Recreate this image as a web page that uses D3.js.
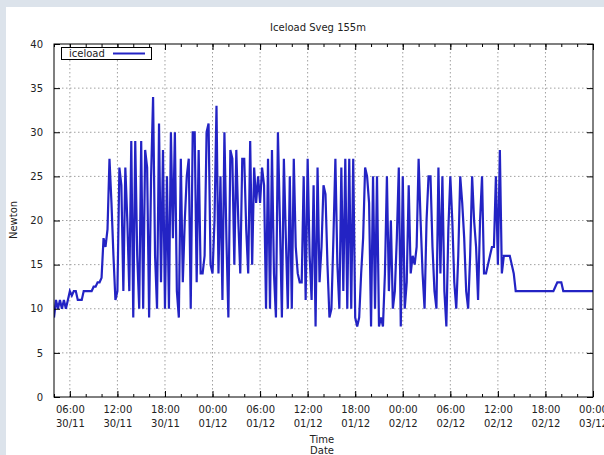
<!DOCTYPE html>
<html lang="en">
  <head>
    <meta charset="UTF-8" />
    <title>Iceload Sveg 155m</title>
    <script src="https://d3js.org/d3.v7.min.js"></script>
    <style>
      html,
      body {
        margin: 0;
        padding: 0;
        background-color: #dce3eb;
        overflow: hidden;
      }
      #panel {
        position: absolute;
        left: 6px;
        top: 7px;
        width: 598px;
        height: 448px;
        background-color: white;
      }
      #chart {
        position: absolute;
        left: 0;
        top: 0;
        font-family: "DejaVu Sans", Verdana, sans-serif;
      }
      .grid line {
        stroke: #a0a0a0;
        stroke-dasharray: 1.5, 2.5;
      }
      .tick text {
        fill: #222;
      }
    </style>
  </head>
  <body>
    <div id="panel"></div>
    <svg id="chart" width="604" height="455"></svg>
    <script>
      const titleText = "Iceload Sveg 155m";
      const seriesName = "iceload";
      const yLabel = "Newton";
      const xLabels = ["Time", "Date"];

      // samples every 15 minutes, starting 30/11 04:00
      const startTime = new Date(Date.UTC(2012, 10, 30, 4, 0));
      const endTime = new Date(Date.UTC(2012, 11, 3, 0, 0));
      const stepMinutes = 15;

      const iceload = [
        // 30/11 04:00 ->
        9, 11, 10, 11, 10, 11, 10, 11, 12, 11.5,
        12, 12, 11, 11, 11, 12, 12, 12, 12, 12,
        12.5, 12.5, 13, 13, 13.5, 18, 17, 19, 27, 22,
        16, 11, 12, 26, 24, 12, 26, 20, 12, 29,
        9, 29, 16, 10, 29, 10, 28,
        // ~15:45 30/11 ->
        26, 9, 25, 34, 16, 10, 31, 13, 28, 10,
        25, 10, 30, 18, 30, 12, 9, 27, 13, 20,
        25, 27, 10, 30, 30, 13, 28, 14, 14, 16,
        30, 31, 15, 14, 20, 33, 14, 25, 11, 30,
        18, 9, 28, 27, 15, 28, 20,
        // ~03:30 01/12 ->
        14, 27, 27, 19, 14, 29, 15, 26, 22, 25,
        22, 26, 24, 10, 27, 10, 28, 14, 9, 30,
        20, 9, 27, 18, 10, 25, 10, 27, 17, 14,
        13, 13, 25, 11, 27, 16, 11, 24, 8, 26,
        13, 17, 24, 23, 15, 9, 10, 18,
        // ~15:30 01/12 ->
        27, 15, 10, 26, 12, 27, 10, 27, 10, 27,
        9, 8, 9, 14, 18, 26, 25, 22, 8, 25,
        10, 25, 8, 9, 8, 14, 25, 12, 20, 10,
        12, 18, 26, 8, 25, 10, 13, 24, 14, 16,
        15, 17, 27, 20, 14, 10,
        // ~03:00 02/12 ->
        20, 25, 25, 17, 12, 10, 26, 14, 25, 12,
        8, 19, 25, 20, 13, 10, 16, 25, 22, 18,
        12, 10, 16, 25, 20, 17, 11, 20, 25, 14,
        14, 15, 16, 17, 17, 25, 15, 28, 14, 16,
        16, 16, 16, 15, 14, 12,
        // ~14:30 02/12 -> 00:00 03/12
        12, 12, 12, 12, 12, 12, 12, 12, 12, 12,
        12, 12, 12, 12, 12, 12, 12, 12, 12, 12.5,
        13, 13, 13, 12, 12, 12, 12, 12, 12, 12,
        12, 12, 12, 12, 12, 12, 12, 12, 12,
      ];

      const yTicks = [0, 5, 10, 15, 20, 25, 30, 35, 40];

      const data = iceload.map((v, i) => ({
        t: new Date(startTime.getTime() + i * stepMinutes * 60000),
        v: v,
      }));

      const plot = { left: 54, right: 593, top: 44, bottom: 397 };

      const x = d3
        .scaleUtc()
        .domain([startTime, endTime])
        .range([plot.left, plot.right]);
      const y = d3
        .scaleLinear()
        .domain([0, 40])
        .range([plot.bottom, plot.top]);

      const svg = d3.select("#chart");

      // title
      svg
        .append("text")
        .attr("x", 318)
        .attr("y", 31)
        .attr("text-anchor", "middle")
        .attr("font-size", "10px")
        .attr("fill", "#222")
        .text(titleText);

      // grid
      const majorTimes = x.ticks(d3.utcHour.every(6));
      const grid = svg.append("g").attr("class", "grid");
      grid
        .selectAll(".vgrid")
        .data(majorTimes.filter((d) => x(d) < plot.right - 1))
        .enter()
        .append("line")
        .attr("x1", (d) => x(d))
        .attr("x2", (d) => x(d))
        .attr("y1", plot.top)
        .attr("y2", plot.bottom);
      grid
        .selectAll(".hgrid")
        .data(yTicks.filter((d) => d > 0 && d < 40))
        .enter()
        .append("line")
        .attr("x1", plot.left)
        .attr("x2", plot.right)
        .attr("y1", (d) => y(d))
        .attr("y2", (d) => y(d));

      // line
      svg
        .append("clipPath")
        .attr("id", "clip")
        .append("rect")
        .attr("x", plot.left)
        .attr("y", plot.top)
        .attr("width", plot.right - plot.left)
        .attr("height", plot.bottom - plot.top);

      const line = d3
        .line()
        .x((d) => x(d.t))
        .y((d) => y(d.v));

      svg
        .append("path")
        .datum(data)
        .attr("clip-path", "url(#clip)")
        .attr("fill", "none")
        .attr("stroke", "#2323c4")
        .attr("stroke-width", 2.2)
        .attr("d", line);

      // axes (ticks point inwards, like gnuplot)
      const bottomAxis = svg
        .append("g")
        .attr("transform", `translate(0,${plot.bottom})`)
        .call(
          d3
            .axisBottom(x)
            .ticks(d3.utcHour.every(6))
            .tickSizeInner(-6)
            .tickSizeOuter(0)
            .tickPadding(9)
            .tickFormat(d3.utcFormat("%H:%M"))
        );
      bottomAxis.selectAll(".tick text").each(function (d) {
        const t = d3.select(this);
        t.text(null);
        t.append("tspan").attr("x", 0).text(d3.utcFormat("%H:%M")(d));
        t.append("tspan")
          .attr("x", 0)
          .attr("dy", "1.4em")
          .text(d3.utcFormat("%d/%m")(d));
      });

      svg
        .append("g")
        .attr("transform", `translate(0,${plot.bottom})`)
        .call(
          d3
            .axisBottom(x)
            .ticks(d3.utcHour.every(2))
            .tickSizeInner(-3)
            .tickSizeOuter(0)
            .tickFormat("")
        );
      svg
        .append("g")
        .attr("transform", `translate(0,${plot.top})`)
        .call(
          d3
            .axisTop(x)
            .ticks(d3.utcHour.every(6))
            .tickSizeInner(-6)
            .tickSizeOuter(0)
            .tickFormat("")
        );
      svg
        .append("g")
        .attr("transform", `translate(0,${plot.top})`)
        .call(
          d3
            .axisTop(x)
            .ticks(d3.utcHour.every(2))
            .tickSizeInner(-3)
            .tickSizeOuter(0)
            .tickFormat("")
        );

      svg
        .append("g")
        .attr("transform", `translate(${plot.left},0)`)
        .call(
          d3
            .axisLeft(y)
            .tickValues(yTicks)
            .tickSizeInner(-6)
            .tickSizeOuter(0)
            .tickPadding(11)
        );
      svg
        .append("g")
        .attr("transform", `translate(${plot.right},0)`)
        .call(
          d3
            .axisRight(y)
            .tickValues(yTicks)
            .tickSizeInner(-6)
            .tickSizeOuter(0)
            .tickFormat("")
        );

      svg.selectAll(".domain").remove();
      svg
        .selectAll(".tick text")
        .attr("font-family", "DejaVu Sans, Verdana, sans-serif")
        .attr("font-size", "10px");

      // frame
      svg
        .append("rect")
        .attr("x", plot.left)
        .attr("y", plot.top)
        .attr("width", plot.right - plot.left)
        .attr("height", plot.bottom - plot.top)
        .attr("fill", "none")
        .attr("stroke", "#000")
        .attr("stroke-width", 1);

      // axis titles
      svg
        .append("text")
        .attr("transform", "translate(17,220) rotate(-90)")
        .attr("text-anchor", "middle")
        .attr("font-size", "10px")
        .attr("fill", "#222")
        .text(yLabel);

      svg
        .selectAll(".xlabel")
        .data(xLabels)
        .enter()
        .append("text")
        .attr("x", 322)
        .attr("y", (d, i) => 443 + i * 11)
        .attr("text-anchor", "middle")
        .attr("font-size", "10px")
        .attr("fill", "#222")
        .text((d) => d);

      // legend
      const legend = svg.append("g");
      legend
        .append("rect")
        .attr("x", 61.5)
        .attr("y", 47.5)
        .attr("width", 90)
        .attr("height", 12)
        .attr("fill", "white")
        .attr("stroke", "#000");
      legend
        .append("text")
        .attr("x", 69)
        .attr("y", 57)
        .attr("font-size", "10px")
        .attr("fill", "#222")
        .text(seriesName);
      legend
        .append("line")
        .attr("x1", 113)
        .attr("x2", 145)
        .attr("y1", 53.5)
        .attr("y2", 53.5)
        .attr("stroke", "#2323c4")
        .attr("stroke-width", 2);
    </script>
  </body>
</html>
